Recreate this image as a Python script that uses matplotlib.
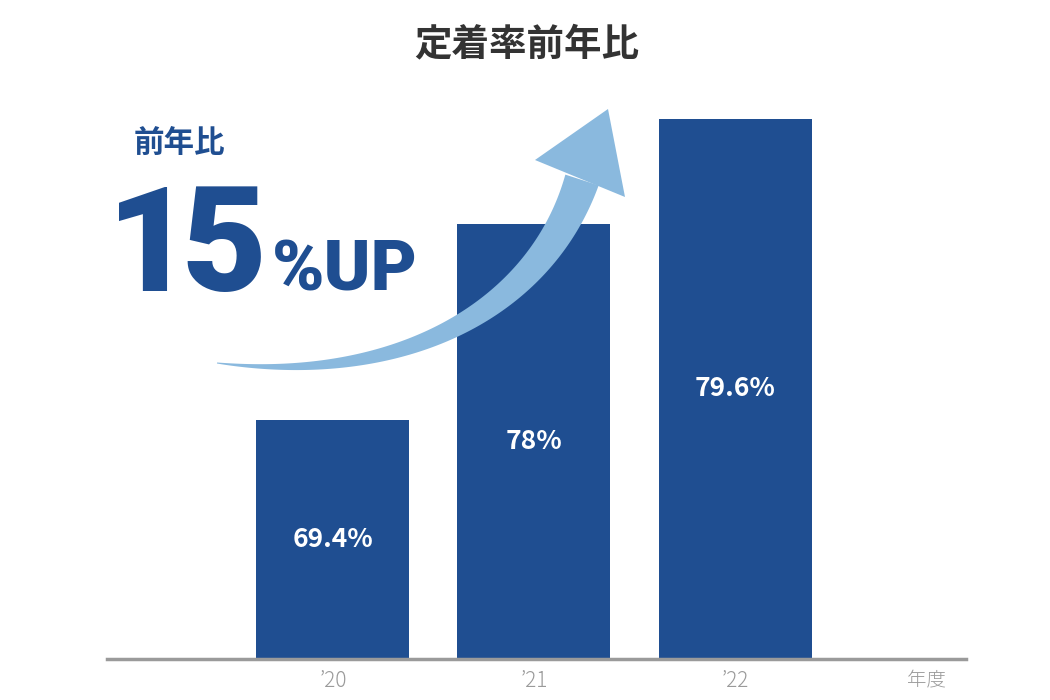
import matplotlib
matplotlib.use("Agg")
import matplotlib.pyplot as plt
import numpy as np
from matplotlib.patches import Polygon
from matplotlib.transforms import Affine2D

plt.rcParams["font.family"] = ["Noto Sans CJK JP", "DejaVu Sans"]

# data
years = ["\u201920", "\u201921", "\u201922"]
rates = [69.4, 78, 79.6]
rate_labels = ["69.4%", "78%", "79.6%"]
# bar heights as drawn in the reference (the axis is not linear)
bar_heights = [239, 435, 540]

BAR = "#1f4e91"
ARROW = "#8ab9de"
GRAY = "#9a9a9a"

W, H = 1050, 700
fig = plt.figure(figsize=(W / 100, H / 100), dpi=100)

# axes placed so one y unit = one pixel
ax = fig.add_axes([107 / W, 41 / H, (966 - 107) / W, 600 / H])
x = np.arange(len(years))
ax.bar(x, bar_heights, width=0.761, color=BAR, zorder=2)
ax.set_xlim(-1.124, 3.149)
ax.set_ylim(0, 600)
for i, lab in enumerate(rate_labels):
    ax.text(x[i], bar_heights[i] / 2, lab, ha="center", va="center",
            color="white", fontsize=19, fontweight="bold", zorder=3)

for s in ["top", "right", "left"]:
    ax.spines[s].set_visible(False)
ax.spines["bottom"].set_color(GRAY)
ax.spines["bottom"].set_linewidth(2.5)
ax.set_yticks([])
ax.set_xticks(x)
ax.set_xticklabels(years, fontsize=15, color=GRAY, fontweight="light")
ax.tick_params(axis="x", length=0, pad=8)
ax.patch.set_alpha(0)

fig.text(927 / W, 1 - 681 / H, "年度", ha="center", va="center",
         fontsize=14, color=GRAY, fontweight="light")

# title
fig.text(527 / W, 1 - 44 / H, "定着率前年比", ha="center", va="center",
         fontsize=27, fontweight="bold", color="#333333")

# curved arrow, drawn in pixel coordinates (origin top-left)
pix = Affine2D().scale(1 / W, -1 / H).translate(0, 1) + fig.transFigure
P = np.array([[217, 363], [400, 385], [540, 310], [582, 180]], float)
t = np.linspace(0, 1, 120)[:, None]
c = ((1 - t) ** 3 * P[0] + 3 * (1 - t) ** 2 * t * P[1]
     + 3 * (1 - t) * t ** 2 * P[2] + t ** 3 * P[3])
d = (3 * (1 - t) ** 2 * (P[1] - P[0]) + 6 * (1 - t) * t * (P[2] - P[1])
     + 3 * t ** 2 * (P[3] - P[2]))
n = np.column_stack([-d[:, 1], d[:, 0]])
n /= np.linalg.norm(n, axis=1)[:, None]
w = (1 + 34 * t[:, 0] ** 0.9) / 2
upper = c + n * w[:, None]
lower = c - n * w[:, None]
body = np.vstack([upper, lower[::-1]])
fig.add_artist(Polygon(body, closed=True, color=ARROW, transform=pix,
                       lw=0, zorder=5))
head = np.array([[535, 160], [608, 109], [625, 197]], float)
fig.add_artist(Polygon(head, closed=True, color=ARROW, transform=pix,
                       lw=0, zorder=5))

# callout text
big = dict(va="baseline", fontweight="black", color=BAR,
           family=["Roboto", "DejaVu Sans"])
fig.text(134 / W, 1 - 143 / H, "前年比", ha="left", va="center",
         fontsize=22, fontweight="bold", color=BAR)
fig.text(150 / W, 1 - 291 / H, "1", ha="center", fontsize=106, **big)
fig.text(224 / W, 1 - 291 / H, "5", ha="center", fontsize=106, **big)
fig.text(272 / W, 1 - 290 / H, "%UP", ha="left", fontsize=51, **big)

fig.savefig("out.png", dpi=100)
